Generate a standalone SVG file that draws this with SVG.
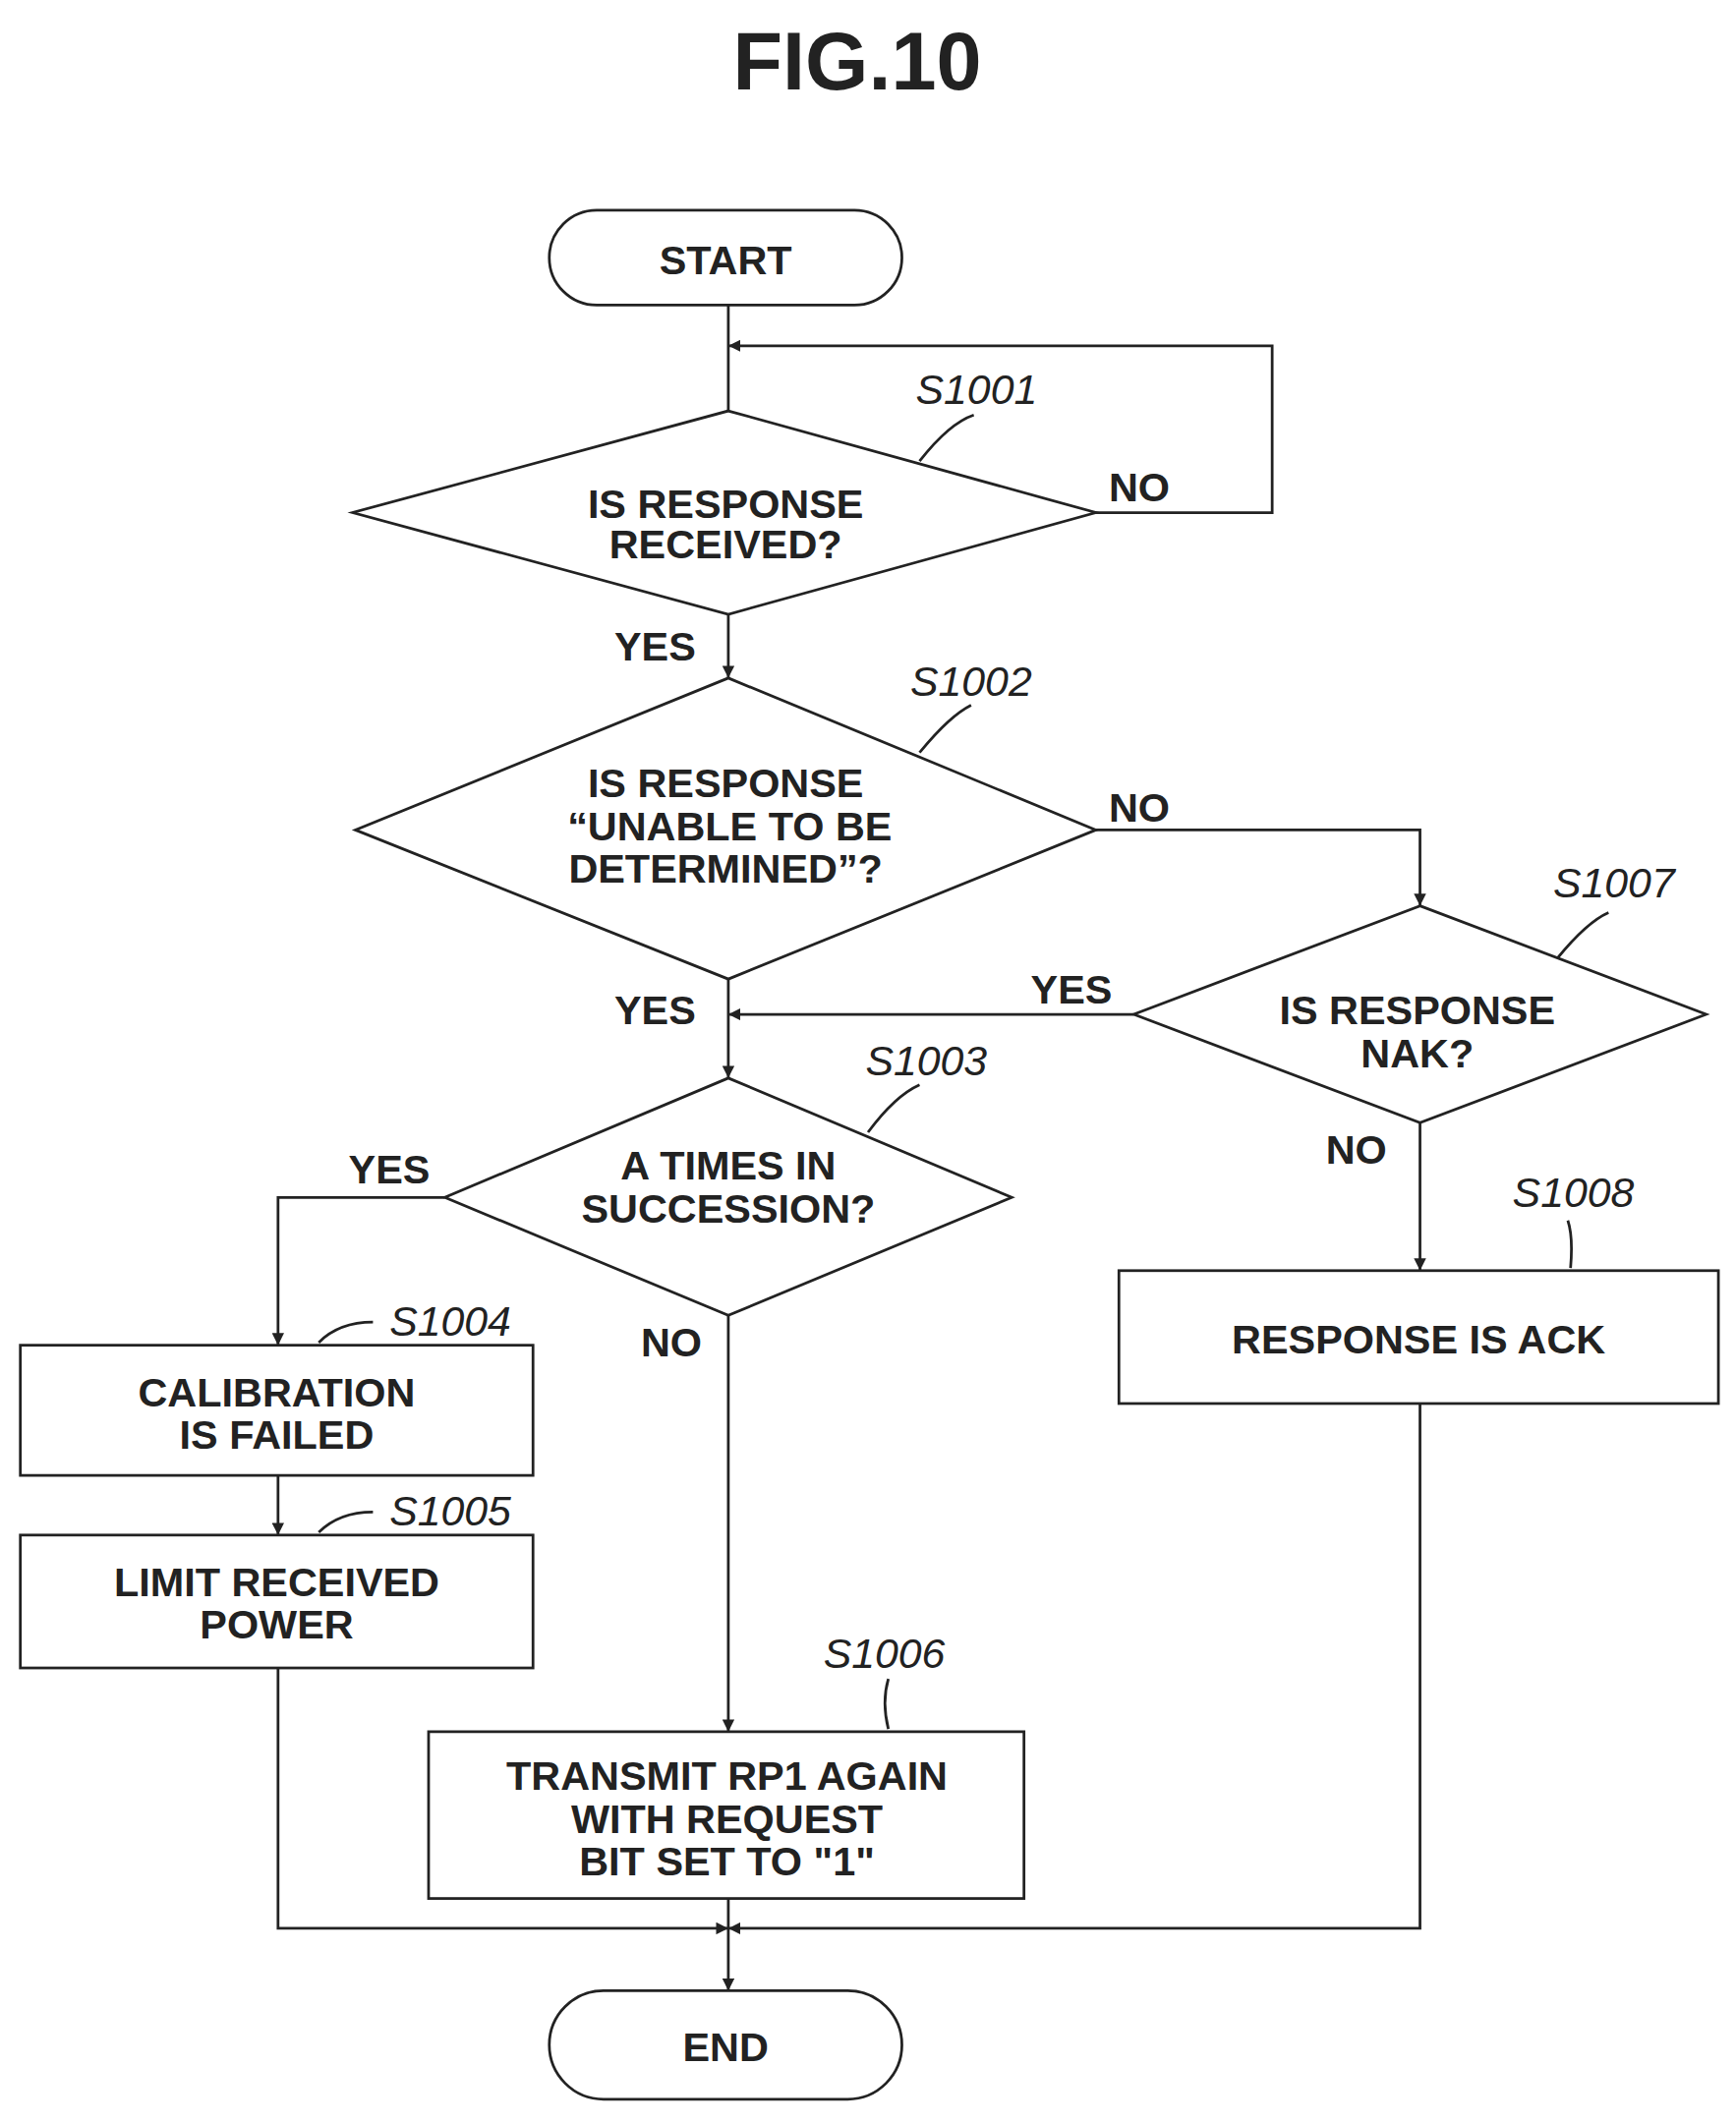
<svg xmlns="http://www.w3.org/2000/svg" width="1766" height="2160" viewBox="0 0 1766 2160">
<defs>
<marker id="a" viewBox="0 0 10 10" refX="10" refY="5" markerWidth="9" markerHeight="9" markerUnits="userSpaceOnUse" orient="auto"><path d="M0,0 L10,5 L0,10 z" fill="#222"/></marker>
<style>
.s{fill:#fff;stroke:#222;stroke-width:2}
.t{font-family:"Liberation Sans",Arial,sans-serif;font-weight:bold;font-size:30px;text-anchor:middle;fill:#222}
.l{font-family:"Liberation Sans",Arial,sans-serif;font-style:italic;font-size:31px;text-anchor:middle;fill:#222}
.c{fill:none;stroke:#222;stroke-width:2}
</style>
</defs>
<rect width="1766" height="2160" fill="#fff"/>
<g transform="scale(1.3797)">
<text x="632" y="66" class="t" style="font-size:60px">FIG.10</text>
<g id="connectors">
<path class="c" d="M537,225 V303"/>
<path class="c" d="M808,378 H938 V255 H537" marker-end="url(#a)"/>
<path class="c" d="M537,453 V500" marker-end="url(#a)"/>
<path class="c" d="M808,612 H1047 V668" marker-end="url(#a)"/>
<path class="c" d="M836,748 H537" marker-end="url(#a)"/>
<path class="c" d="M537,722 V795" marker-end="url(#a)"/>
<path class="c" d="M328,883 H205 V992" marker-end="url(#a)"/>
<path class="c" d="M205,1088 V1132" marker-end="url(#a)"/>
<path class="c" d="M537,970 V1277" marker-end="url(#a)"/>
<path class="c" d="M1047,828 V937" marker-end="url(#a)"/>
<path class="c" d="M205,1230 V1422 H537" marker-end="url(#a)"/>
<path class="c" d="M1047,1035 V1422 H537" marker-end="url(#a)"/>
<path class="c" d="M537,1400 V1468" marker-end="url(#a)"/>
<path class="c" d="M678,340 Q700,312 718,306"/>
<path class="c" d="M678,555 Q700,528 716,520"/>
<path class="c" d="M1148,707 Q1170,680 1186,673"/>
<path class="c" d="M640,835 Q660,808 678,800"/>
<path class="c" d="M235,990 Q250,975 275,975"/>
<path class="c" d="M235,1130 Q250,1115 275,1115"/>
<path class="c" d="M655,1275 Q650,1255 655,1238"/>
<path class="c" d="M1158,935 Q1160,912 1156,900"/>
</g>
<g id="start"><rect class="s" x="405" y="155" width="260" height="70" rx="35"/><text class="t" x="535" y="202">START</text></g>
<g id="s1001"><path class="s" d="M537,303 L808,378 L537,453 L260,378 Z"/><text class="t" x="535" y="382">IS RESPONSE</text><text class="t" x="535" y="412">RECEIVED?</text><text class="l" x="720" y="298">S1001</text><text class="t" x="840" y="370">NO</text><text class="t" x="483" y="487">YES</text></g>
<g id="s1002"><path class="s" d="M537,500 L808,612 L537,722 L262,612 Z"/><text class="t" x="535" y="588">IS RESPONSE</text><text class="t" x="538" y="620">“UNABLE TO BE</text><text class="t" x="535" y="651">DETERMINED”?</text><text class="l" x="716" y="513">S1002</text><text class="t" x="840" y="606">NO</text><text class="t" x="483" y="755">YES</text></g>
<g id="s1007"><path class="s" d="M1047,668 L1258,748 L1047,828 L836,748 Z"/><text class="t" x="1045" y="755">IS RESPONSE</text><text class="t" x="1045" y="787">NAK?</text><text class="l" x="1190" y="662">S1007</text><text class="t" x="790" y="740">YES</text><text class="t" x="1000" y="858">NO</text></g>
<g id="s1003"><path class="s" d="M537,795 L746,883 L537,970 L328,883 Z"/><text class="t" x="537" y="870">A TIMES IN</text><text class="t" x="537" y="902">SUCCESSION?</text><text class="l" x="683" y="793">S1003</text><text class="t" x="287" y="873">YES</text><text class="t" x="495" y="1000">NO</text></g>
<g id="s1004"><rect class="s" x="15" y="992" width="378" height="96"/><text class="t" x="204" y="1037">CALIBRATION</text><text class="t" x="204" y="1068">IS FAILED</text><text class="l" x="332" y="985">S1004</text></g>
<g id="s1005"><rect class="s" x="15" y="1132" width="378" height="98"/><text class="t" x="204" y="1177">LIMIT RECEIVED</text><text class="t" x="204" y="1208">POWER</text><text class="l" x="332" y="1125">S1005</text></g>
<g id="s1006"><rect class="s" x="316" y="1277" width="439" height="123"/><text class="t" x="536" y="1320">TRANSMIT RP1 AGAIN</text><text class="t" x="536" y="1352">WITH REQUEST</text><text class="t" x="536" y="1383">BIT SET TO "1"</text><text class="l" x="652" y="1230">S1006</text></g>
<g id="s1008"><rect class="s" x="825" y="937" width="442" height="98"/><text class="t" x="1046" y="998">RESPONSE IS ACK</text><text class="l" x="1160" y="890">S1008</text></g>
<g id="end"><rect class="s" x="405" y="1468" width="260" height="80" rx="40"/><text class="t" x="535" y="1520">END</text></g>
</g>
</svg>
